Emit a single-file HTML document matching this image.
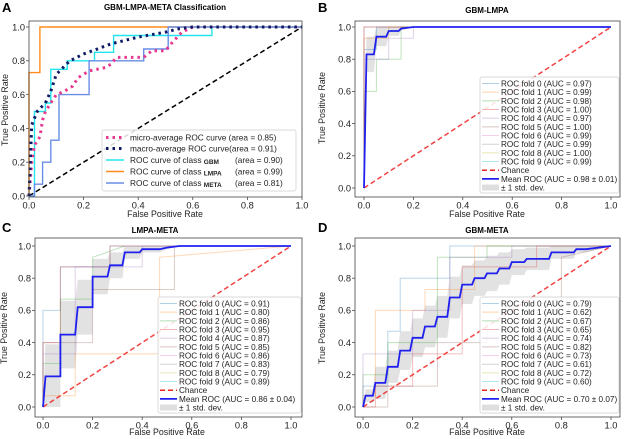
<!DOCTYPE html>
<html><head><meta charset="utf-8"><style>
body{margin:0;background:#fff;}
svg{display:block;font-family:"Liberation Sans",sans-serif;}
</style></head><body>
<svg id="fig" width="624" height="439" viewBox="0 0 624 439" xmlns="http://www.w3.org/2000/svg"></svg>
<script>
// ---------- DATA ----------
const ticks = [0, 0.2, 0.4, 0.6, 0.8, 1.0];
const tickLabels = ["0.0", "0.2", "0.4", "0.6", "0.8", "1.0"];

// Panel A
const aMicroFpr = [0,0.01,0.02,0.04,0.05,0.06,0.08,0.1,0.13,0.16,0.18,0.22,0.28,0.3,0.32,0.42,0.45,0.5,0.52,0.56,0.6,1];
const aMicroTpr = [0,0.2,0.3,0.35,0.45,0.5,0.55,0.6,0.62,0.65,0.7,0.74,0.76,0.78,0.82,0.82,0.86,0.86,0.9,0.97,1,1];
const aMacroFpr = [0,0.01,0.03,0.06,0.08,0.1,0.15,0.2,0.25,0.3,0.4,0.5,0.55,0.6,1];
const aMacroTpr = [0,0.42,0.5,0.55,0.62,0.72,0.8,0.84,0.87,0.9,0.94,0.97,0.99,1,1];
const aGbmFpr = [0.01,0.02,0.02,0.06,0.06,0.08,0.08,0.14,0.14,0.24,0.24,0.31,0.31,0.51,0.51,0.67,0.67,1];
const aGbmTpr = [0,0,0.5,0.5,0.55,0.55,0.75,0.75,0.8,0.8,0.85,0.85,0.95,0.95,0.95,0.95,1,1];
const aLmpaFpr = [0,0,0.04,0.04,1];
const aLmpaTpr = [0,0.73,0.73,1,1];
const aMetaFpr = [0,0.02,0.02,0.05,0.05,0.08,0.08,0.11,0.11,0.22,0.22,0.42,0.42,0.51,0.51,1];
const aMetaTpr = [0,0,0.07,0.07,0.2,0.2,0.33,0.33,0.6,0.6,0.8,0.8,0.87,0.87,1,1];

// Panel B
const bFpr  = [0,0.01,0.04,0.05,0.09,0.1,0.14,0.15,0.2,1];
const bMean = [0,0.83,0.83,0.94,0.94,0.975,0.975,0.99,1,1];
const bStd  = [0,0.11,0.11,0.06,0.06,0.03,0.03,0.01,0,0];
const bAuc  = ["0.97","0.99","0.98","1.00","0.97","1.00","0.99","0.99","1.00","0.99"];
const bMeanLabel = "Mean ROC (AUC = 0.98 \u00b1 0.01)";
const bFoldFpr = [[0,0,0.05,0.05,1],[0,0,0.1,0.1,1],[0,0,0.05,0.05,0.15,0.15,1],[0,0,1],[0,0,0.1,0.1,0.2,0.2,1],[0,0,1]];
const bFoldTpr = [[0,0.86,0.86,1,1],[0,0.93,0.93,1,1],[0,0.6,0.6,0.8,0.8,1,1],[0,1,1],[0,0.8,0.8,0.93,0.93,1,1],[0,1,1]];

// Panel C
const cFpr  = [0,0.01,0.07,0.07,0.13,0.14,0.2,0.2,0.26,0.27,0.32,0.33,0.39,0.4,0.47,0.5,0.55,1];
const cMean = [0,0.19,0.19,0.45,0.45,0.62,0.62,0.81,0.81,0.88,0.88,0.96,0.96,0.98,0.98,0.99,1,1];
const cStd  = [0,0.2,0.2,0.21,0.21,0.17,0.17,0.11,0.11,0.08,0.08,0.04,0.04,0.02,0.02,0.01,0,0];
const cAuc  = ["0.91","0.80","0.86","0.95","0.87","0.85","0.86","0.83","0.79","0.89"];
const cMeanLabel = "Mean ROC (AUC = 0.86 \u00b1 0.04)";
const cFoldFpr = [[0,0,0.07,0.07,0.27,0.27,1],[0,0,0.13,0.13,0.47,0.47,1],[0,0,0.07,0.07,0.2,0.2,0.33,0.33,1],[0,0,0.07,0.07,0.27,0.27,1],[0,0,0.13,0.13,0.4,0.4,1],[0,0,0.2,0.2,0.53,0.53,1]];
const cFoldTpr = [[0,0.6,0.6,0.87,0.87,1,1],[0,0.07,0.07,0.33,0.33,0.93,1],[0,0.27,0.27,0.67,0.67,0.93,1],[0,0.4,0.4,0.87,0.87,1,1],[0,0.33,0.33,0.87,0.87,1,1],[0,0.4,0.4,0.73,0.73,1,1]];

// Panel D
const dFpr  = [0,0.01,0.04,0.05,0.09,0.1,0.14,0.15,0.19,0.2,0.24,0.25,0.29,0.3,0.34,0.35,0.39,0.4,0.44,0.45,0.49,0.5,0.54,0.55,0.59,0.6,0.65,0.66,0.75,0.76,0.85,0.86,0.9,1];
const dMean = [0,0.07,0.07,0.15,0.15,0.25,0.25,0.35,0.35,0.43,0.43,0.5,0.5,0.56,0.56,0.68,0.68,0.76,0.76,0.8,0.8,0.83,0.83,0.86,0.86,0.9,0.9,0.92,0.92,0.96,0.96,0.98,0.98,1];
const dStd  = [0,0.04,0.04,0.1,0.1,0.1,0.1,0.12,0.12,0.12,0.12,0.13,0.13,0.13,0.13,0.13,0.13,0.12,0.12,0.11,0.11,0.11,0.11,0.1,0.1,0.08,0.08,0.07,0.07,0.04,0.04,0.02,0.02,0];
const dAuc  = ["0.79","0.62","0.67","0.65","0.74","0.82","0.73","0.61","0.72","0.60"];
const dMeanLabel = "Mean ROC (AUC = 0.70 \u00b1 0.07)";
const dFoldFpr = [[0,0,0.1,0.1,0.15,0.15,0.35,0.35,1],[0,0,0.05,0.05,0.25,0.25,0.45,0.45,1],[0,0,0.1,0.1,0.3,0.3,0.5,0.5,1],[0,0.05,0.05,0.2,0.2,0.4,0.4,0.7,0.7,1],[0,0,0.2,0.2,0.35,0.35,0.6,0.6,1],[0,0.1,0.1,0.3,0.3,0.5,0.5,0.8,0.8,1]];
const dFoldTpr = [[0,0.13,0.13,0.47,0.47,0.8,0.8,1,1],[0,0.07,0.07,0.6,0.6,0.73,0.73,1,1],[0,0.2,0.2,0.4,0.4,0.93,0.93,1,1],[0,0,0.13,0.13,0.33,0.33,0.87,0.87,1,1],[0,0.33,0.33,0.6,0.6,0.93,0.93,1,1],[0,0,0.13,0.13,0.4,0.4,0.53,0.53,0.93,1]];

const tab10 = ["#1f77b4","#ff7f0e","#2ca02c","#d62728","#9467bd","#8c564b","#e377c2","#7f7f7f","#bcbd22","#17becf"];

// ---------- DRAWING ----------
const NS = "http://www.w3.org/2000/svg";
const svg = document.getElementById("fig");
function mk(tag, attrs, parent, text) {
  const e = document.createElementNS(NS, tag);
  for (const k in attrs) e.setAttribute(k, attrs[k]);
  if (text !== undefined) e.textContent = text;
  (parent || svg).appendChild(e);
  return e;
}
function makeAxes(x0, x1, y0, y1) {
  return { sx: v => x0 + (x1 - x0) * v, sy: v => y0 + (y1 - y0) * v };
}
function pts(ax, xs, ys) { return xs.map((x, i) => ax.sx(x).toFixed(1) + "," + ax.sy(ys[i]).toFixed(1)).join(" "); }

function frameAndTicks(g, ax, fr, title, titleX, titleY, letter, lx, ly, xlabX, xlabY, ylabX, ylabY) {
  const t = mk("text", {x: lx, y: ly, "font-size": 13, "font-weight": "bold"}, g, letter);
  
  
  const tt = mk("text", {x: titleX, y: titleY, "font-size": 8, "font-weight": "bold", "text-anchor": "middle"}, g, title);
  
  
  ticks.forEach((v, i) => {
    const X = ax.sx(v), Y = ax.sy(v);
    mk("line", {x1: X, x2: X, y1: fr.b, y2: fr.b + 3, stroke: "#333", "stroke-width": 0.7}, g);
    const xl = mk("text", {x: X, y: fr.b + 11.5, "font-size": 9.3, "text-anchor": "middle", fill: "#222"}, g, tickLabels[i]);
    
    
    mk("line", {x1: fr.l - 3, x2: fr.l, y1: Y, y2: Y, stroke: "#333", "stroke-width": 0.7}, g);
    const yl = mk("text", {x: fr.l - 4, y: Y + 3.3, "font-size": 9.3, "text-anchor": "end", fill: "#222"}, g, tickLabels[i]);
    
    
  });
  const xt = mk("text", {x: xlabX, y: xlabY, "font-size": 8.8, "text-anchor": "middle", fill: "#222"}, g, "False Positive Rate");
  
  
  const yt = mk("text", {x: ylabX, y: ylabY, "font-size": 8.8, "text-anchor": "middle", fill: "#222", transform: `rotate(-90 ${ylabX} ${ylabY})`}, g, "True Positive Rate");
  
  
}
function frameRect(g, fr) {
  const r = mk("rect", {x: fr.l, y: fr.t, width: fr.r - fr.l, height: fr.b - fr.t, fill: "none", stroke: "#444", "stroke-width": 0.8}, g);
  
  
}

// ----- Panel A -----
(function () {
  const g = mk("g", {});
  
  
  const fr = {l: 29, r: 302, t: 21, b: 197};
  const ax = makeAxes(29, 302, 196, 27);
  frameAndTicks(g, ax, fr, "GBM-LMPA-META  Classification", 165, 10, "A", 2, 12, 165, 217, 8, 110);
  const diag = mk("line", {x1: ax.sx(0), y1: ax.sy(0), x2: ax.sx(1), y2: ax.sy(1), stroke: "#000", "stroke-width": 1.5, "stroke-dasharray": "5,3"}, g);
  
  
  const series = [
    [aGbmFpr, aGbmTpr, "#22e5ee", 1.4, null, "gbm-roc-line"],
    [aLmpaFpr, aLmpaTpr, "#ff8c1a", 1.4, null, "lmpa-roc-line"],
    [aMetaFpr, aMetaTpr, "#6a8ee6", 1.4, null, "meta-roc-line"],
    [aMicroFpr, aMicroTpr, "#e8378f", 3, "2.5,4", "micro-average-line"],
    [aMacroFpr, aMacroTpr, "#0d1a66", 3, "2.5,4", "macro-average-line"]
  ];
  series.forEach(s => {
    const p = mk("polyline", {points: pts(ax, s[0], s[1]), fill: "none", stroke: s[2], "stroke-width": s[3]}, g);
    if (s[4]) p.setAttribute("stroke-dasharray", s[4]);
    
    
  });
  frameRect(g, fr);
  const lg = mk("g", {}, g);
  
  
  mk("rect", {x: 102, y: 130, width: 194, height: 61, fill: "#fff", "fill-opacity": 0.85, stroke: "#ccc", "stroke-width": 0.7, rx: 2}, lg);
  const ent = [
    ["#e8378f", 3, "2.5,4", "micro-average ROC curve (area = 0.85)", null, 137.5],
    ["#0d1a66", 3, "2.5,4", "macro-average ROC curve(area = 0.91)", null, 148.5],
    ["#22e5ee", 1.4, null, "ROC curve of class ", ["GBM", "(area = 0.90)"], 160],
    ["#ff8c1a", 1.4, null, "ROC curve of class ", ["LMPA", "(area = 0.99)"], 171.5],
    ["#6a8ee6", 1.4, null, "ROC curve of class ", ["META", "(area = 0.81)"], 183]
  ];
  ent.forEach(e => {
    const l = mk("line", {x1: 106, x2: 124, y1: e[5], y2: e[5], stroke: e[0], "stroke-width": e[1]}, lg);
    if (e[2]) l.setAttribute("stroke-dasharray", e[2]);
    const t = mk("text", {x: 130, y: e[5] + 3, "font-size": 8.3, fill: "#222"}, lg, e[3]);
    
    
    if (e[4]) {
      mk("tspan", {"font-size": 6.5, "font-weight": "bold", dy: 1}, t, e[4][0]);
      mk("tspan", {x: 235, dy: -1}, t, e[4][1]);
    }
  });
})();

// ----- CV panels -----
function cvPanel(name, letter, title, titleX, titleY, fr, ax, foldFpr, foldTpr, fpr, mean, std, aucs, meanLabel, lgBox, xlab, ylab, letterPos) {
  const g = mk("g", {});
  
  
  frameAndTicks(g, ax, fr, title, titleX, titleY, letter, letterPos[0], letterPos[1], xlab[0], xlab[1], ylab[0], ylab[1]);
  const up = fpr.map((x, i) => Math.min(1, mean[i] + std[i]));
  const lo = fpr.map((x, i) => Math.max(0, mean[i] - std[i]));
  const band = mk("polygon", {points: pts(ax, fpr, up) + " " + pts(ax, fpr.slice().reverse(), lo.slice().reverse()), fill: "#a0a0a0", "fill-opacity": 0.3, stroke: "none"}, g);
  
  
  foldFpr.forEach((f, i) => {
    const p = mk("polyline", {points: pts(ax, f, foldTpr[i]), fill: "none", stroke: tab10[i], "stroke-width": 1, "stroke-opacity": 0.3}, g);
    
    
  });
  const ch = mk("line", {x1: ax.sx(0), y1: ax.sy(0), x2: ax.sx(1), y2: ax.sy(1), stroke: "#ee2222", "stroke-width": 1.5, "stroke-dasharray": "5,3", "stroke-opacity": 0.85}, g);
  
  
  const m = mk("polyline", {points: pts(ax, fpr, mean), fill: "none", stroke: "#2020ee", "stroke-width": 1.8}, g);
  
  
  frameRect(g, fr);
  const lg = mk("g", {}, g);
  
  
  mk("rect", {x: lgBox.x, y: lgBox.y, width: lgBox.w, height: lgBox.h, fill: "#fff", "fill-opacity": 0.85, stroke: "#ccc", "stroke-width": 0.7, rx: 2}, lg);
  const step = 8.67;
  const y0 = lgBox.y + 6.5;
  const sx0 = lgBox.x + 2, sx1 = lgBox.x + 19, tx = lgBox.x + 21;
  aucs.forEach((a, i) => {
    const y = y0 + i * step;
    mk("line", {x1: sx0, x2: sx1, y1: y, y2: y, stroke: tab10[i], "stroke-width": 1, "stroke-opacity": 0.35}, lg);
    const t = mk("text", {x: tx, y: y + 3, "font-size": 8.2, fill: "#222"}, lg, "ROC fold " + i + " (AUC = " + a + ")");
    
    
  });
  let y = y0 + 10 * step;
  mk("line", {x1: sx0, x2: sx1, y1: y, y2: y, stroke: "#ee2222", "stroke-width": 1.5, "stroke-dasharray": "5,3"}, lg);
  let t = mk("text", {x: tx, y: y + 3, "font-size": 8.2, fill: "#222"}, lg, "Chance");
  
  
  y += step;
  mk("line", {x1: sx0, x2: sx1, y1: y, y2: y, stroke: "#2020ee", "stroke-width": 1.8}, lg);
  t = mk("text", {x: tx, y: y + 3, "font-size": 8.2, fill: "#222"}, lg, meanLabel);
  
  
  y += step;
  mk("rect", {x: sx0, y: y - 3, width: sx1 - sx0, height: 6, fill: "#a0a0a0", "fill-opacity": 0.35}, lg);
  t = mk("text", {x: tx, y: y + 3, "font-size": 8.2, fill: "#222"}, lg, "\u00b1 1 std. dev.");
  
  
}

cvPanel("panel-b", "B", "GBM-LMPA", 487, 13, {l: 355, r: 620, t: 21, b: 197}, makeAxes(364, 611, 188, 27),
  bFoldFpr, bFoldTpr, bFpr, bMean, bStd, bAuc, bMeanLabel, {x: 480, y: 77, w: 139, h: 116}, [487, 217], [325, 108], [318, 12]);
cvPanel("panel-c", "C", "LMPA-META", 155, 233, {l: 35, r: 302, t: 238, b: 417}, makeAxes(43, 291, 407, 246),
  cFoldFpr, cFoldTpr, cFpr, cMean, cStd, cAuc, cMeanLabel, {x: 158, y: 297, w: 143, h: 116}, [167, 435], [7, 328], [2, 232]);
cvPanel("panel-d", "D", "GBM-META", 487, 233, {l: 355, r: 620, t: 238, b: 417}, makeAxes(363, 611, 407, 246),
  dFoldFpr, dFoldTpr, dFpr, dMean, dStd, dAuc, dMeanLabel, {x: 480, y: 297, w: 139, h: 116}, [487, 435], [325, 328], [318, 232]);
</script>
</body></html>
